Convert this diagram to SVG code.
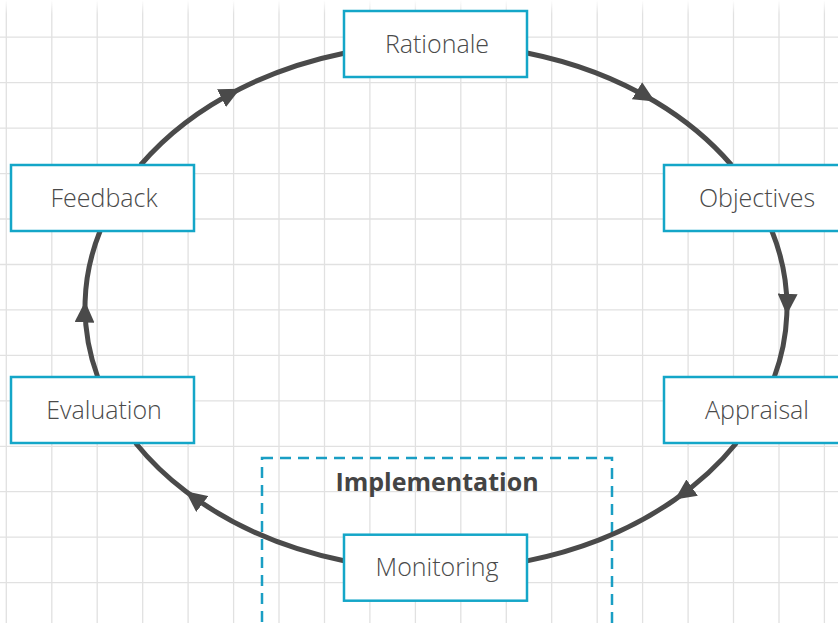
<svg xmlns="http://www.w3.org/2000/svg" width="838" height="623" viewBox="0 0 838 623">
  <style>
    .grid line { stroke: #e1e1e1; stroke-width: 1.3; }
    .node rect { fill: #ffffff; stroke: #14a6c8; stroke-width: 2.5; }
    .node text { font-family: "Open Sans", "Liberation Sans", sans-serif; font-size: 25px; font-weight: 300; fill: #4a4a4a; text-anchor: middle; }
    .conn path { fill: none; stroke: #4a4a4a; stroke-width: 5; marker-mid: url(#arrow); }
    .group-box { fill: none; stroke: #1a9ec4; stroke-width: 2.5; stroke-dasharray: 11 7; }
    .group-label { font-family: "Open Sans", "Liberation Sans", sans-serif; font-size: 25px; font-weight: 700; fill: #444444; text-anchor: middle; }
  </style>
  <defs>
    <marker id="arrow" markerWidth="21" markerHeight="20" refX="21" refY="10" orient="auto" markerUnits="userSpaceOnUse">
      <path d="M0,0 L21,10 L0,20 z" fill="#4a4a4a"/>
    </marker>
    <linearGradient id="topFade" x1="0" y1="0" x2="0" y2="1">
      <stop offset="0" stop-color="#ffffff" stop-opacity="1"/>
      <stop offset="1" stop-color="#ffffff" stop-opacity="0"/>
    </linearGradient>
  </defs>

  <rect width="838" height="623" fill="#ffffff"/>

  <!-- background grid, 45.45px pitch -->
  <g class="grid">
    <line x1="6.3" y1="0" x2="6.3" y2="623"/>
    <line x1="51.8" y1="0" x2="51.8" y2="623"/>
    <line x1="97.2" y1="0" x2="97.2" y2="623"/>
    <line x1="142.7" y1="0" x2="142.7" y2="623"/>
    <line x1="188.1" y1="0" x2="188.1" y2="623"/>
    <line x1="233.6" y1="0" x2="233.6" y2="623"/>
    <line x1="279" y1="0" x2="279" y2="623"/>
    <line x1="324.5" y1="0" x2="324.5" y2="623"/>
    <line x1="369.9" y1="0" x2="369.9" y2="623"/>
    <line x1="415.4" y1="0" x2="415.4" y2="623"/>
    <line x1="460.8" y1="0" x2="460.8" y2="623"/>
    <line x1="506.3" y1="0" x2="506.3" y2="623"/>
    <line x1="551.7" y1="0" x2="551.7" y2="623"/>
    <line x1="597.2" y1="0" x2="597.2" y2="623"/>
    <line x1="642.6" y1="0" x2="642.6" y2="623"/>
    <line x1="688.1" y1="0" x2="688.1" y2="623"/>
    <line x1="733.5" y1="0" x2="733.5" y2="623"/>
    <line x1="779" y1="0" x2="779" y2="623"/>
    <line x1="824.4" y1="0" x2="824.4" y2="623"/>
    <line x1="0" y1="37.2" x2="838" y2="37.2"/>
    <line x1="0" y1="82.7" x2="838" y2="82.7"/>
    <line x1="0" y1="128.1" x2="838" y2="128.1"/>
    <line x1="0" y1="173.6" x2="838" y2="173.6"/>
    <line x1="0" y1="219" x2="838" y2="219"/>
    <line x1="0" y1="264.5" x2="838" y2="264.5"/>
    <line x1="0" y1="309.9" x2="838" y2="309.9"/>
    <line x1="0" y1="355.4" x2="838" y2="355.4"/>
    <line x1="0" y1="400.8" x2="838" y2="400.8"/>
    <line x1="0" y1="446.3" x2="838" y2="446.3"/>
    <line x1="0" y1="491.7" x2="838" y2="491.7"/>
    <line x1="0" y1="537.2" x2="838" y2="537.2"/>
    <line x1="0" y1="582.6" x2="838" y2="582.6"/>
  </g>
  <rect x="0" y="0" width="838" height="14" fill="url(#topFade)"/>

  <!-- dashed grouping frame -->
  <g id="implementation">
    <rect class="group-box" x="262" y="458" width="350" height="200"/>
    <text class="group-label" x="437" y="490.5">Implementation</text>
  </g>

  <!-- cycle connectors along one ellipse (cx 436, cy 307, rx 351, ry 263) -->
  <g id="connectors" class="conn">
    <path id="feedback-rationale" d="M140.6,165 A351,263 0 0 1 240.2,88.7 A351,263 0 0 1 344,53.2"/>
    <path id="rationale-objectives" d="M527,53 A351,263 0 0 1 655,101.5 A351,263 0 0 1 731.4,165"/>
    <path id="objectives-appraisal" d="M771.9,231 A351,263 0 0 1 786.8,314.8 A351,263 0 0 1 774.3,377"/>
    <path id="appraisal-monitoring" d="M736.4,443 A351,263 0 0 1 674.9,499.6 A351,263 0 0 1 527,560.9"/>
    <path id="monitoring-evaluation" d="M344,560.7 A351,263 0 0 1 185.6,491.3 A351,263 0 0 1 135.6,443"/>
    <path id="evaluation-feedback" d="M97.7,377 A351,263 0 0 1 85.1,301.5 A351,263 0 0 1 100.1,231"/>
  </g>

  <g id="rationale" class="node">
    <rect x="344" y="11" width="183" height="66"/>
    <text x="437" y="52.5">Rationale</text>
  </g>
  <g id="objectives" class="node">
    <rect x="664" y="165" width="183" height="66"/>
    <text x="757" y="206.5">Objectives</text>
  </g>
  <g id="appraisal" class="node">
    <rect x="664" y="377" width="183" height="66"/>
    <text x="757" y="418.5">Appraisal</text>
  </g>
  <g id="monitoring" class="node">
    <rect x="344" y="534.7" width="183" height="66"/>
    <text x="437" y="576">Monitoring</text>
  </g>
  <g id="evaluation" class="node">
    <rect x="11" y="377" width="183" height="66"/>
    <text x="104" y="418.5">Evaluation</text>
  </g>
  <g id="feedback" class="node">
    <rect x="11" y="165" width="183" height="66"/>
    <text x="104" y="206.5">Feedback</text>
  </g>
</svg>
